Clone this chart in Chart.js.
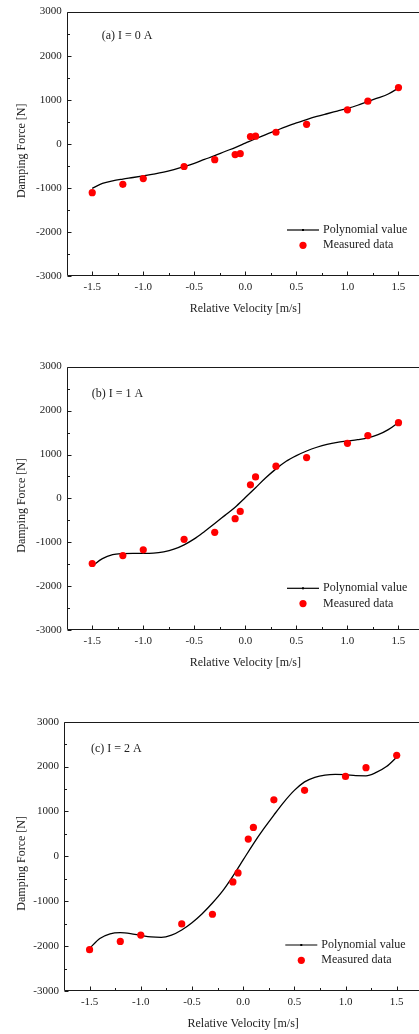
<!DOCTYPE html>
<html>
<head>
<meta charset="utf-8">
<script src="https://cdn.jsdelivr.net/npm/chart.js@4.4.1/dist/chart.umd.min.js"></script>
<style>
  html, body { margin: 0; padding: 0; background: #fff; overflow: hidden; width: 419px; height: 1034px; }
  canvas { position: absolute; left: 0; }
</style>
</head>
<body>
<canvas id="chartA" width="430" height="324" style="top:0px"></canvas>
<canvas id="chartB" width="430" height="324" style="top:355px"></canvas>
<canvas id="chartC" width="430" height="324" style="top:710px"></canvas>
<script>
// measured points (velocity in m/s, force in N)
const velocity = [-1.5, -1.2, -1.0, -0.6, -0.3, -0.1, -0.05, 0.05, 0.1, 0.3, 0.6, 1.0, 1.2, 1.5];
const measured0A = [-1110, -920, -790, -515, -360, -245, -225, 165, 172, 262, 442, 772, 967, 1275];
const measured1A = [-1480, -1300, -1170, -930, -770, -460, -295, 310, 490, 735, 930, 1255, 1430, 1725];
const measured2A = [-2080, -1895, -1755, -1505, -1290, -570, -370, 385, 645, 1260, 1470, 1780, 1975, 2250];

// polynomial curve
const curveVelocity = [-1.5, -1.4, -1.3, -1.2, -1.1, -1.0, -0.9, -0.8, -0.7, -0.6, -0.5, -0.4, -0.3, -0.2, -0.1, 0.0,
  0.1, 0.2, 0.3, 0.4, 0.5, 0.6, 0.7, 0.8, 0.9, 1.0, 1.1, 1.2, 1.3, 1.4, 1.5];
const poly0A = [-1010, -900, -840, -800, -765, -728, -690, -645, -585, -517, -442, -355, -270, -175, -85, 15,
  115, 210, 300, 390, 475, 550, 620, 682, 742, 802, 875, 960, 1040, 1130, 1265];
const poly1A = [-1540, -1370, -1280, -1255, -1250, -1250, -1245, -1215, -1155, -1055, -920, -750, -570, -385, -200, 20,
  245, 470, 673, 847, 975, 1080, 1165, 1232, 1278, 1308, 1338, 1376, 1450, 1565, 1730];
const poly2A = [-2050, -1830, -1725, -1700, -1720, -1760, -1795, -1805, -1755, -1640, -1478, -1277, -1040, -770, -440, -80,
  280, 610, 920, 1215, 1470, 1660, 1762, 1812, 1827, 1820, 1798, 1795, 1870, 2000, 2210];

// axis ticks
const xTicks = [-1.5, -1.0, -0.5, 0.0, 0.5, 1.0, 1.5];
const xMinorTicks = [-1.25, -0.75, -0.25, 0.25, 0.75, 1.25];
const yTicks = [-3000, -2000, -1000, 0, 1000, 2000, 3000];
const yMinorTicks = [-2500, -1500, -500, 500, 1500, 2500];

const panelLabels = ['(a) I = 0 A', '(b) I = 1 A', '(c) I = 2 A'];
const legendLabels = ['Polynomial value', 'Measured data'];

Chart.defaults.font.family = "'Liberation Serif', 'Times New Roman', serif";
Chart.defaults.color = '#222';

const toXY = (xs, ys) => xs.map((v, i) => ({ x: v, y: ys[i] }));

// frame, inward ticks, panel label, y title and legend
const framePlugin = {
  id: 'frame',
  afterDraw(chart, args, opts) {
    const { ctx, chartArea: a, scales: { x, y } } = chart;
    const L = Math.round(a.left) + 0.5, B = Math.round(a.bottom) - 0.5, T = Math.round(a.top) + 0.5;
    const R = chart.width;
    ctx.save();
    ctx.strokeStyle = '#1a1a1a';
    ctx.lineWidth = 1;

    ctx.beginPath();
    ctx.moveTo(R, T);
    ctx.lineTo(L, T);
    ctx.lineTo(L, B);
    ctx.stroke();

    ctx.beginPath();
    ctx.moveTo(L, B);
    ctx.lineTo(R, B);
    ctx.stroke();

    ctx.beginPath();
    xTicks.forEach(v => { const p = Math.round(x.getPixelForValue(v)) + 0.5; ctx.moveTo(p, B); ctx.lineTo(p, B - 4); });
    xMinorTicks.forEach(v => { const p = Math.round(x.getPixelForValue(v)) + 0.5; ctx.moveTo(p, B); ctx.lineTo(p, B - 2.5); });
    yTicks.forEach(v => { const p = Math.round(y.getPixelForValue(v)) + 0.5; ctx.moveTo(L, p); ctx.lineTo(L + 4, p); });
    yMinorTicks.forEach(v => { const p = Math.round(y.getPixelForValue(v)) + 0.5; ctx.moveTo(L, p); ctx.lineTo(L + 2.5, p); });
    ctx.stroke();

    ctx.fillStyle = '#222';
    ctx.font = "12px 'Liberation Serif'";
    ctx.textBaseline = 'middle';
    ctx.textAlign = 'left';
    ctx.fillText(opts.label, a.left + opts.labelDx, a.top + opts.labelDy);

    // y axis title
    ctx.save();
    ctx.translate(22, (a.top + a.bottom) / 2 + 7);
    ctx.rotate(-Math.PI / 2);
    ctx.textAlign = 'center';
    ctx.fillText('Damping Force [N]', 0, 0);
    ctx.restore();

    // legend
    const lx = a.right - 137, ly = a.bottom - opts.legendDy;
    ctx.beginPath();
    ctx.moveTo(lx, ly);
    ctx.lineTo(lx + 32, ly);
    ctx.lineWidth = 1.2;
    ctx.strokeStyle = '#000';
    ctx.stroke();
    ctx.fillStyle = '#000';
    ctx.fillRect(lx + 15, ly - 1, 2, 2);
    ctx.fillStyle = '#ff0000';
    ctx.beginPath();
    ctx.arc(lx + 16, ly + 15.3, 3.6, 0, Math.PI * 2);
    ctx.fill();
    ctx.fillStyle = '#222';
    ctx.fillText(legendLabels[0], lx + 36, ly);
    ctx.fillText(legendLabels[1], lx + 36, ly + 15.3);
    ctx.restore();
  }
};

const makeChart = (id, poly, measured, p) => {
  const ctx = document.getElementById(id).getContext('2d');
  return new Chart(ctx, {
    type: 'scatter',
    data: {
      datasets: [
        {
          label: legendLabels[1],
          data: toXY(velocity, measured),
          backgroundColor: '#ff0000',
          borderWidth: 0,
          pointRadius: 3.6,
          order: 0
        },
        {
          label: legendLabels[0],
          data: toXY(curveVelocity, poly),
          showLine: true,
          borderColor: '#000',
          borderWidth: 1.3,
          cubicInterpolationMode: 'monotone',
          pointRadius: 0,
          order: 1
        }
      ]
    },
    options: {
      responsive: false,
      animation: false,
      events: [],
      layout: { padding: { top: p.top, right: 430 - p.right, left: 0, bottom: 0 } },
      plugins: {
        legend: { display: false },
        tooltip: { enabled: false },
        frame: { label: p.label, labelDx: p.labelDx, labelDy: p.labelDy, legendDy: p.legendDy }
      },
      scales: {
        x: {
          type: 'linear',
          min: -1.75,
          max: 1.75,
          afterBuildTicks: s => { s.ticks = xTicks.map(v => ({ value: v })); },
          afterFit: s => { s.height = 324 - p.bottom; },
          grid: { display: false, drawTicks: false },
          border: { display: false },
          ticks: { autoSkip: false, maxRotation: 0, padding: 4.7, font: { size: 11 }, callback: v => v.toFixed(1) },
          title: {
            display: true,
            text: 'Relative Velocity [m/s]',
            font: { size: 12 },
            padding: { top: 0, bottom: 324 - 7.2 - p.titleY }
          }
        },
        y: {
          type: 'linear',
          min: -3000,
          max: 3000,
          afterBuildTicks: s => { s.ticks = yTicks.map(v => ({ value: v })); },
          afterFit: s => { s.width = p.left; },
          grid: { display: false, drawTicks: false },
          border: { display: false },
          ticks: { padding: 5, font: { size: 11 }, callback: v => String(v) }
        }
      }
    },
    plugins: [framePlugin]
  });
};

makeChart('chartA', poly0A, measured0A,
  { top: 9.3, bottom: 276, left: 66.7, right: 424, titleY: 308.5, label: panelLabels[0], labelDx: 35, labelDy: 24, legendDy: 46 });
makeChart('chartB', poly1A, measured1A,
  { top: 10.7, bottom: 275.3, left: 66.7, right: 424, titleY: 307.8, label: panelLabels[1], labelDx: 25, labelDy: 27.6, legendDy: 42 });
makeChart('chartC', poly2A, measured2A,
  { top: 11.7, bottom: 281, left: 64, right: 422.3, titleY: 313.5, label: panelLabels[2], labelDx: 27, labelDy: 27.6, legendDy: 46 });
</script>
</body>
</html>
